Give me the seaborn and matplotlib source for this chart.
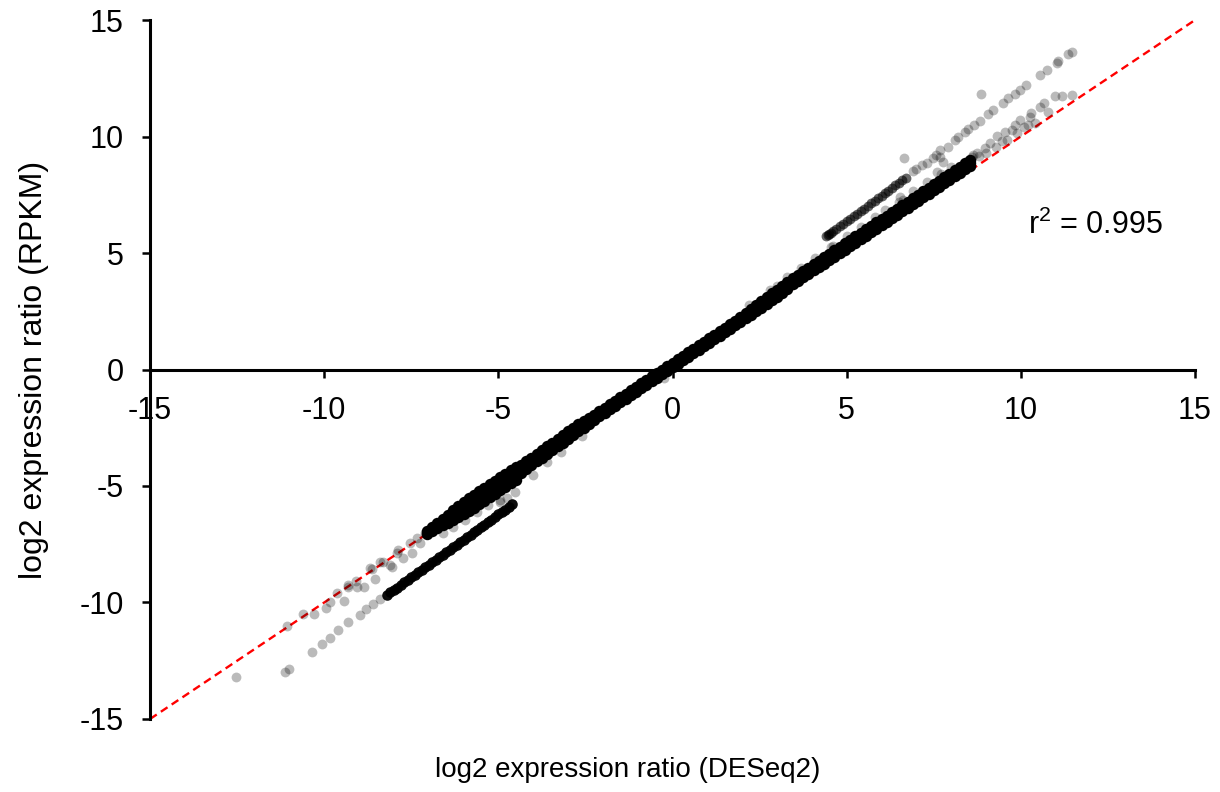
import matplotlib
matplotlib.use('Agg')
import matplotlib.pyplot as plt
import seaborn as sns
import pandas as pd

# dense core of the main diagonal band (three tracks across its width)
core_x = [-7.05, -6.9, -6.75, -6.6, -6.45, -6.3, -6.15, -6.0, -5.85, -5.7,
          -5.55, -5.4, -5.25, -5.1, -4.95, -4.8, -4.65, -4.5, -4.35, -4.2,
          -4.05, -3.9, -3.75, -3.6, -3.45, -3.3, -3.15, -3.0, -2.85, -2.7,
          -2.55, -2.4, -2.25, -2.1, -1.95, -1.8, -1.65, -1.5, -1.35, -1.2,
          -1.05, -0.9, -0.75, -0.6, -0.45, -0.3, -0.15, 0.0, 0.15, 0.3,
          0.45, 0.6, 0.75, 0.9, 1.05, 1.2, 1.35, 1.5, 1.65, 1.8,
          1.95, 2.1, 2.25, 2.4, 2.55, 2.7, 2.85, 3.0, 3.15, 3.3,
          3.45, 3.6, 3.75, 3.9, 4.05, 4.2, 4.35, 4.5, 4.65, 4.8,
          4.95, 5.1, 5.25, 5.4, 5.55, 5.7, 5.85, 6.0, 6.15, 6.3,
          6.45, 6.6, 6.75, 6.9, 7.05, 7.2, 7.35, 7.5, 7.65, 7.8,
          7.95, 8.1, 8.25, 8.4, 8.55]
core_mid = [-7.0, -6.85, -6.7, -6.55, -6.4, -6.25, -6.1, -5.95, -5.8, -5.65,
            -5.5, -5.35, -5.2, -5.05, -4.9, -4.75, -4.6, -4.45, -4.27, -4.1,
            -3.94, -3.78, -3.62, -3.46, -3.3, -3.14, -2.98, -2.82, -2.66, -2.5,
            -2.35, -2.2, -2.05, -1.9, -1.75, -1.6, -1.45, -1.3, -1.15, -1.0,
            -0.85, -0.7, -0.55, -0.4, -0.25, -0.1, 0.05, 0.2, 0.35, 0.5,
            0.65, 0.8, 0.95, 1.1, 1.25, 1.4, 1.55, 1.7, 1.85, 2.0,
            2.16, 2.32, 2.48, 2.64, 2.8, 2.96, 3.12, 3.28, 3.44, 3.6,
            3.75, 3.9, 4.05, 4.2, 4.35, 4.5, 4.65, 4.8, 4.95, 5.1,
            5.25, 5.4, 5.55, 5.7, 5.85, 6.0, 6.15, 6.3, 6.45, 6.6,
            6.75, 6.9, 7.05, 7.2, 7.35, 7.5, 7.65, 7.8, 7.95, 8.1,
            8.25, 8.4, 8.55, 8.7, 8.85]
core_hi = [-6.95, -6.77, -6.59, -6.41, -6.23, -6.05, -5.87, -5.69, -5.52, -5.37,
           -5.22, -5.07, -4.92, -4.77, -4.62, -4.47, -4.32, -4.17, -4.09, -3.94,
           -3.78, -3.62, -3.46, -3.3, -3.14, -2.98, -2.82, -2.66, -2.5, -2.34,
           -2.21, -2.08, -1.95, -1.8, -1.65, -1.5, -1.35, -1.2, -1.05, -0.9,
           -0.75, -0.6, -0.45, -0.3, -0.15, 0.0, 0.15, 0.3, 0.45, 0.6,
           0.75, 0.9, 1.05, 1.2, 1.35, 1.5, 1.65, 1.8, 1.95, 2.1,
           2.27, 2.44, 2.61, 2.78, 2.95, 3.11, 3.27, 3.43, 3.59, 3.75,
           3.91, 4.06, 4.21, 4.36, 4.51, 4.66, 4.81, 4.96, 5.11, 5.26,
           5.41, 5.56, 5.71, 5.86, 6.01, 6.16, 6.31, 6.46, 6.61, 6.76,
           6.91, 7.06, 7.21, 7.36, 7.51, 7.66, 7.81, 7.96, 8.11, 8.26,
           8.41, 8.56, 8.71, 8.86, 9.01]
core_lo = [-7.05, -6.93, -6.81, -6.69, -6.57, -6.45, -6.33, -6.21, -6.08, -5.93,
           -5.78, -5.63, -5.48, -5.33, -5.18, -5.03, -4.88, -4.73, -4.45, -4.26,
           -4.1, -3.94, -3.78, -3.62, -3.46, -3.3, -3.14, -2.98, -2.82, -2.66,
           -2.49, -2.32, -2.15, -2.0, -1.85, -1.7, -1.55, -1.4, -1.25, -1.1,
           -0.95, -0.8, -0.65, -0.5, -0.35, -0.2, -0.05, 0.1, 0.25, 0.4,
           0.55, 0.7, 0.85, 1.0, 1.15, 1.3, 1.45, 1.6, 1.75, 1.9,
           2.05, 2.2, 2.35, 2.5, 2.65, 2.81, 2.97, 3.13, 3.29, 3.45,
           3.65, 3.8, 3.95, 4.1, 4.25, 4.4, 4.55, 4.7, 4.85, 5.0,
           5.15, 5.3, 5.45, 5.6, 5.75, 5.9, 6.05, 6.2, 6.35, 6.5,
           6.65, 6.8, 6.95, 7.1, 7.25, 7.4, 7.55, 7.7, 7.85, 8.0,
           8.15, 8.3, 8.45, 8.6, 8.75]

# lower offset band (dense part)
low_x = [-4.6, -4.7, -4.8, -4.9, -5.0, -5.1, -5.2, -5.3, -5.4, -5.5,
         -5.6, -5.7, -5.8, -5.9, -6.0, -6.1, -6.2, -6.3, -6.4, -6.5,
         -6.6, -6.7, -6.8, -6.9, -7.0, -7.1, -7.2, -7.3, -7.4, -7.5,
         -7.6, -7.7, -7.8, -7.9, -8.0, -8.1, -8.2]
low_y = [-5.79, -5.9, -6.01, -6.12, -6.22, -6.33, -6.44, -6.55, -6.66, -6.76,
         -6.87, -6.98, -7.09, -7.2, -7.3, -7.41, -7.52, -7.63, -7.74, -7.84,
         -7.95, -8.06, -8.17, -8.28, -8.38, -8.49, -8.6, -8.71, -8.82, -8.92,
         -9.03, -9.14, -9.25, -9.36, -9.46, -9.57, -9.68]

# upper offset band (dense part)
up_x = [4.4, 4.45, 4.5, 4.55, 4.6, 4.7, 4.8, 4.9, 5.0, 5.1, 5.2, 5.3, 5.4, 5.5,
        5.6, 5.7, 5.8, 5.9, 6.0, 6.1, 6.2, 6.3, 6.4, 6.5, 6.6, 6.7]
up_y = [5.71, 5.77, 5.82, 5.88, 5.93, 6.04, 6.15, 6.26, 6.37, 6.47, 6.58, 6.69, 6.8, 6.91,
        7.02, 7.13, 7.24, 7.35, 7.46, 7.57, 7.68, 7.79, 7.9, 8.01, 8.12, 8.23]

# sparse, light points
sparse_x = [
    # upper offset band tail
    7.16, 7.31, 7.48, 7.57, 7.68, 7.91, 8.11, 8.2, 8.4, 8.49, 8.66, 8.83,
    9.06, 9.2, 9.49, 9.63, 9.83, 9.98, 10.15, 10.55, 10.75, 11.04, 11.07,
    11.36, 11.47, 8.86, 6.65, 6.9, 7.0,
    # cloud above the main band top
    8.26, 8.46, 8.6, 8.74, 8.97, 9.12, 9.32, 9.55, 9.75, 9.83, 9.98, 10.26,
    10.29, 10.78, 10.55, 10.67, 10.98, 11.18, 11.47, 9.0, 9.3, 9.6, 9.9,
    10.2, 10.4, 10.1, 9.45, 8.8, 7.77, 7.6, 6.53, 6.62, 8.63, 7.68,
    # fuzz on the upper edge of the core
    2.2, 2.8, 3.0, 3.3, 3.7, 4.1, 4.55, 4.6, 5.0, 5.4, 5.8, 6.1, 6.5, 6.9,
    7.3, 7.7, 8.0,
    # fuzz on the lower edge of the core
    -2.6, -3.2, -3.6, -4.0, -4.52, -4.75, -4.95, -4.95, -5.3, -5.6, -5.96,
    -6.3, -6.59, -0.25,
    # lower-left tail along the diagonal
    -7.25, -7.49, -7.92, -7.73, -8.06, -8.3, -8.64, -8.54, -8.86, -9.09,
    -9.33, -9.62, -9.43, -9.83, -9.95, -10.29, -10.6, -11.08, -7.1, -7.33,
    -7.54, -7.88, -8.11, -8.4, -8.68, -9.06, -9.31,
    # lower offset band tail
    -8.59, -8.97, -9.31, -9.6, -9.83, -10.07, -10.36, -11.0, -11.12, -12.54,
    -8.4, -8.8,
]
sparse_y = [
    8.78, 8.86, 9.08, 9.21, 9.42, 9.55, 9.85, 9.98, 10.19, 10.32, 10.49, 10.67,
    10.97, 11.14, 11.44, 11.65, 11.82, 12.0, 12.21, 12.64, 12.85, 13.15, 13.24,
    13.54, 13.63, 11.82, 9.08, 8.5, 8.62,
    8.69, 8.86, 9.12, 9.29, 9.51, 9.72, 10.02, 10.19, 10.28, 10.49, 10.71, 10.84,
    11.0, 11.05, 11.27, 11.44, 11.74, 11.74, 11.78, 9.3, 9.55, 9.85, 10.15,
    10.5, 10.6, 10.4, 9.8, 9.15, 8.91, 8.48, 7.4, 7.27, 9.21, 9.12,
    2.75, 3.4, 3.6, 3.95, 4.35, 4.8, 5.25, 5.3, 5.75, 6.1, 6.55, 6.85, 7.2, 7.65,
    8.05, 8.4, 8.7,
    -2.85, -3.55, -3.95, -4.53, -5.26, -5.52, -5.6, -5.69, -5.8, -6.1, -6.46,
    -6.75, -7.02, -0.35,
    -7.46, -7.86, -7.89, -8.1, -8.46, -8.25, -8.57, -9.0, -9.32, -9.06,
    -9.32, -9.58, -9.92, -10.0, -10.25, -10.49, -10.49, -11.0, -7.02, -7.23,
    -7.45, -7.75, -8.39, -8.26, -8.52, -9.33, -9.25,
    -10.06, -10.54, -10.82, -11.18, -11.51, -11.78, -12.11, -12.84, -12.99, -13.21,
    -9.85, -10.3,
]

ticks = [-15, -10, -5, 0, 5, 10, 15]

sns.set_style('white')
plt.rcParams['font.family'] = ['Liberation Sans', 'DejaVu Sans']
plt.rcParams['text.color'] = 'black'
plt.rcParams['axes.labelcolor'] = 'black'
plt.rcParams['xtick.color'] = 'black'
plt.rcParams['ytick.color'] = 'black'
plt.rcParams['mathtext.fontset'] = 'custom'
plt.rcParams['mathtext.rm'] = 'Liberation Sans'

fig = plt.figure(figsize=(12.2, 7.92), dpi=100)
ax = fig.add_axes([0.123, 0.0922, 0.8565, 0.8825])

# 1:1 reference line under the points
ax.plot([-15, 15], [-15, 15], color='#ff0000', lw=1.7,
        linestyle=(0, (3.4, 2.1)), zorder=1)

MS = 50
core = pd.DataFrame({
    'x': core_x * 3,
    'y': core_mid + core_hi + core_lo,
})
sns.scatterplot(data=core, x='x', y='y', ax=ax, color='black', s=68,
                alpha=1.0, linewidth=0, zorder=2)
sns.scatterplot(x=low_x, y=low_y, ax=ax, color='black', s=58,
                alpha=0.95, linewidth=0, zorder=2)
sns.scatterplot(x=up_x, y=up_y, ax=ax, color='black', s=MS,
                alpha=0.6, linewidth=0, zorder=2)
sns.scatterplot(x=sparse_x, y=sparse_y, ax=ax, color='black', s=MS,
                alpha=0.27, linewidth=0, zorder=2)

ax.set_xlim(-15, 15)
ax.set_ylim(-15, 15)
ax.set_xticks(ticks)
ax.set_yticks(ticks)
ax.set_xticklabels([str(t) for t in ticks])
ax.set_yticklabels([str(t) for t in ticks])

ax.spines['top'].set_visible(False)
ax.spines['right'].set_visible(False)
ax.spines['bottom'].set_position(('data', 0))
for side in ['left', 'bottom']:
    ax.spines[side].set_linewidth(2.2)
    ax.spines[side].set_color('black')
    ax.spines[side].set_zorder(3)

ax.tick_params(axis='both', direction='out', length=6, width=1.8,
               color='black', labelsize=22, pad=13)
ax.tick_params(axis='x', bottom=True)
ax.tick_params(axis='y', left=True)

ax.set_xlabel('log2 expression ratio (DESeq2)', fontsize=20)
ax.set_ylabel('log2 expression ratio (RPKM)', fontsize=23)
ax.xaxis.set_label_coords(0.457, -0.054)
ax.yaxis.set_label_coords(-0.097, 0.5)

ax.text(10.2, 6.2, r'r$^{\mathregular{2}}$ = 0.995', fontsize=22,
        ha='left', va='center')

fig.savefig('out.png', dpi=100)
